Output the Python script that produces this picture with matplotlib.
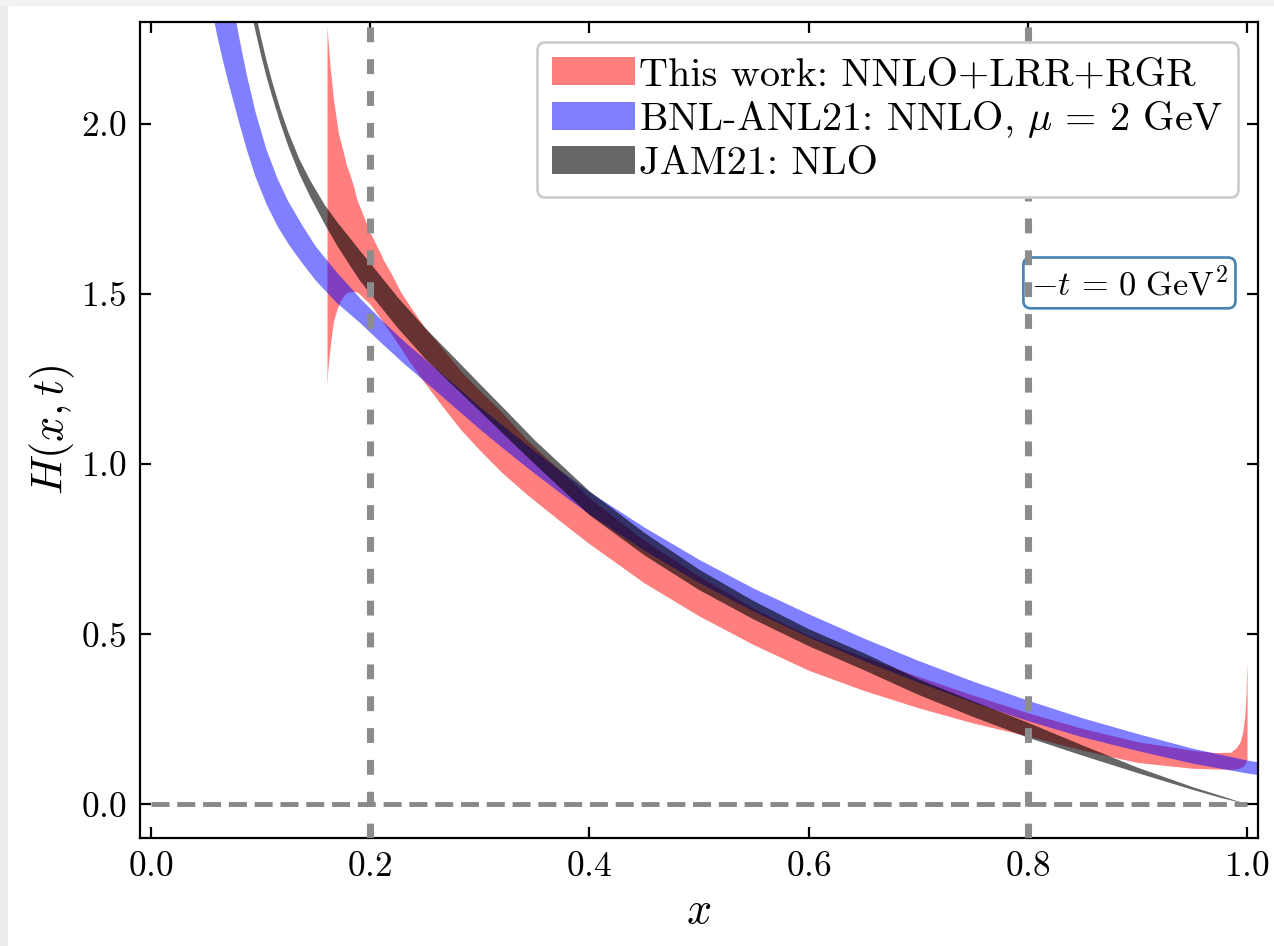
import matplotlib
matplotlib.use("Agg")
import matplotlib.pyplot as plt
from matplotlib.patches import Rectangle

plt.rcParams['font.family'] = 'serif'
plt.rcParams['font.serif'] = ['cmr10']
plt.rcParams['mathtext.fontset'] = 'cm'
plt.rcParams['axes.formatter.use_mathtext'] = True

# This work: NNLO+LRR+RGR (red band)
red_x = [0.1606, 0.1612, 0.162, 0.1633, 0.165, 0.1664, 0.1675, 0.170, 0.1709, 0.1724,
         0.176, 0.1785, 0.180, 0.185, 0.1877, 0.190, 0.1998, 0.210, 0.212, 0.220,
         0.227, 0.236, 0.250, 0.265, 0.282, 0.300, 0.320, 0.343, 0.370, 0.400,
         0.450, 0.500, 0.550, 0.600, 0.650, 0.700, 0.750, 0.800, 0.850, 0.900,
         0.950, 0.970, 0.985, 0.990, 0.9936, 0.996, 0.998, 0.999, 1.000]
red_lo = [1.226, 1.27, 1.30, 1.338, 1.385, 1.417, 1.43, 1.458, 1.465, 1.476,
          1.495, 1.503, 1.505, 1.507, 1.505, 1.50, 1.47, 1.425, 1.415, 1.378,
          1.345, 1.30, 1.237, 1.173, 1.103, 1.04, 0.975, 0.91, 0.84, 0.765,
          0.65, 0.553, 0.468, 0.393, 0.334, 0.283, 0.238, 0.20, 0.158, 0.122,
          0.105, 0.103, 0.102, 0.103, 0.106, 0.110, 0.116, 0.122, 0.13]
red_hi = [2.285, 2.26, 2.225, 2.172, 2.12, 2.074, 2.05, 1.995, 1.975, 1.955,
          1.91, 1.877, 1.865, 1.815, 1.779, 1.76, 1.681, 1.615, 1.60, 1.555,
          1.51, 1.465, 1.40, 1.343, 1.275, 1.215, 1.152, 1.07, 0.99, 0.90,
          0.775, 0.67, 0.575, 0.495, 0.433, 0.375, 0.32, 0.268, 0.222, 0.183,
          0.158, 0.151, 0.152, 0.165, 0.182, 0.21, 0.26, 0.32, 0.42]

# BNL-ANL21: NNLO (blue band)
blue_x = [0.055, 0.060, 0.065, 0.070, 0.075, 0.080, 0.087, 0.095, 0.105, 0.115,
          0.125, 0.137, 0.150, 0.169, 0.191, 0.210, 0.230, 0.250, 0.275, 0.300,
          0.325, 0.350, 0.375, 0.400, 0.450, 0.500, 0.550, 0.600, 0.650, 0.700,
          0.750, 0.800, 0.850, 0.900, 0.950, 1.000, 1.020]
blue_lo = [2.34, 2.26, 2.19, 2.125, 2.065, 2.005, 1.925, 1.845, 1.765, 1.70,
           1.648, 1.594, 1.54, 1.475, 1.414, 1.356, 1.297, 1.242, 1.172, 1.102,
           1.036, 0.972, 0.911, 0.852, 0.746, 0.651, 0.566, 0.491, 0.422, 0.358,
           0.299, 0.245, 0.197, 0.157, 0.120, 0.091, 0.082]
blue_hi = [2.78, 2.66, 2.55, 2.445, 2.345, 2.255, 2.145, 2.035, 1.925, 1.84,
           1.772, 1.706, 1.64, 1.565, 1.486, 1.424, 1.363, 1.308, 1.238, 1.168,
           1.102, 1.038, 0.977, 0.918, 0.814, 0.719, 0.634, 0.559, 0.488, 0.422,
           0.361, 0.305, 0.253, 0.207, 0.164, 0.129, 0.118]

# JAM21: NLO (black band)
jam_x = [0.090, 0.095, 0.100, 0.105, 0.110, 0.1175, 0.125, 0.135, 0.145, 0.158,
         0.170, 0.180, 0.190, 0.200, 0.225, 0.250, 0.275, 0.300, 0.325, 0.350,
         0.375, 0.400, 0.450, 0.500, 0.550, 0.600, 0.650, 0.700, 0.750, 0.800,
         0.850, 0.900, 0.950, 0.975, 1.000]
jam_lo = [2.348, 2.272, 2.203, 2.139, 2.083, 2.004, 1.934, 1.853, 1.786, 1.707,
          1.640, 1.590, 1.541, 1.50, 1.40, 1.31, 1.232, 1.155, 1.077, 1.00,
          0.925, 0.85, 0.732, 0.63, 0.543, 0.465, 0.395, 0.322, 0.257, 0.196,
          0.143, 0.092, 0.043, 0.020, 0.0]
jam_hi = [2.408, 2.328, 2.255, 2.187, 2.127, 2.046, 1.976, 1.897, 1.834, 1.763,
          1.710, 1.670, 1.629, 1.59, 1.49, 1.40, 1.318, 1.235, 1.153, 1.07,
          0.995, 0.92, 0.798, 0.69, 0.597, 0.515, 0.445, 0.368, 0.303, 0.240,
          0.173, 0.108, 0.051, 0.026, 0.0]

labels = ['This work: NNLO+LRR+RGR', r'BNL-ANL21: NNLO, $\mu\,=\,2$ GeV', 'JAM21: NLO']
x_cuts = [0.2, 0.8]

dpi = 159.25
fig = plt.figure(figsize=(1274 / dpi, 946.3 / dpi), dpi=dpi)
ax = fig.add_axes([140 / 1274, 108 / 946, 1118 / 1274, 816 / 946])

# screenshot margin
fig.patches.append(Rectangle((0, 0), 7 / 1274, 1, transform=fig.transFigure,
                             color='#ececec', zorder=0))
fig.patches.append(Rectangle((0, 1 - 5 / 946), 1, 5 / 946, transform=fig.transFigure,
                             color='#f2f2f2', zorder=0))

ax.fill_between(red_x, red_lo, red_hi, color='red', alpha=0.5, lw=0, label=labels[0])
ax.fill_between(blue_x, blue_lo, blue_hi, color='blue', alpha=0.5, lw=0, label=labels[1])
ax.fill_between(jam_x, jam_lo, jam_hi, color='black', alpha=0.6, lw=0, label=labels[2])

for xc in x_cuts:
    ax.axvline(xc, color='#8c8c8c', lw=3.2, ls=(0, (2.1, 2.4)), zorder=4)
ax.hlines(0, 0, 1, color='#888888', lw=2.2, ls='--', zorder=4)

ax.set_xlim(-0.01, 1.01)
ax.set_ylim(-0.1, 2.3)
ax.set_xticks([0.0, 0.2, 0.4, 0.6, 0.8, 1.0])
ax.set_yticks([0.0, 0.5, 1.0, 1.5, 2.0])
ax.tick_params(direction='in', top=True, right=True, length=5, width=1.0,
               labelsize=16, pad=6)
for s in ax.spines.values():
    s.set_linewidth(1.0)

ax.set_xlabel(r'$x$', fontsize=20)
ax.set_ylabel(r'$H(x,t)$', fontsize=20, labelpad=2)

ax.text(0.885, 0.680, r'$-t\,=\,0\ \mathrm{GeV}^2$', transform=ax.transAxes,
        ha='center', va='center', fontsize=15.5, zorder=3,
        bbox=dict(boxstyle='round,pad=0.22', facecolor='white', edgecolor='steelblue', lw=1.2))

leg = ax.legend(loc='upper right', fontsize=18.2, handlelength=2.06, handletextpad=0.1,
                borderpad=0.37, labelspacing=0.15, fancybox=True, framealpha=1)
leg.get_frame().set_edgecolor('#cccccc')
leg.get_frame().set_linewidth(1.2)

fig.savefig('out.png', dpi=dpi)
